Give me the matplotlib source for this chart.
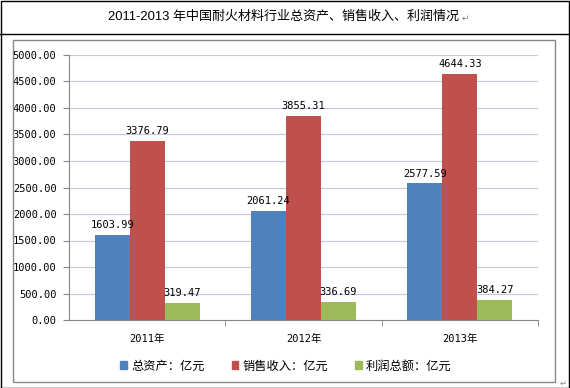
import numpy as np
import matplotlib
matplotlib.use('Agg')
import matplotlib.pyplot as plt
from matplotlib.patches import Rectangle
from matplotlib.lines import Line2D

years = ['2011年', '2012年', '2013年']
assets = [1603.99, 2061.24, 2577.59]
sales = [3376.79, 3855.31, 4644.33]
profit = [319.47, 336.69, 384.27]
series_names = ['总资产：亿元', '销售收入：亿元', '利润总额：亿元']
colors = ['#4F81BD', '#C0504D', '#9BBB59']
yticks = np.arange(0, 5001, 500)

W, H = 570, 388
mono = ['DejaVu Sans Mono', 'Noto Sans CJK SC']
cjk = ['Noto Sans CJK SC', 'DejaVu Sans']

fig = plt.figure(figsize=(W / 100, H / 100), dpi=100)
fig.patch.set_facecolor('white')

# outer frame, title box, inner chart frame
fig.patches.append(Rectangle((0.5 / W, 0.5 / H), (W - 1.5) / W, (H - 1.5) / H,
                             transform=fig.transFigure, fill=False, ec='black', lw=1))
fig.add_artist(Line2D([0, 1], [1 - 34 / H] * 2, color='black', lw=1))
fig.patches.append(Rectangle((13 / W, 1 - 382 / H), (555 - 13) / W, (382 - 40) / H,
                             transform=fig.transFigure, fill=False, ec='#888888', lw=1))
fig.text(284 / W, 1 - 17 / H, '2011-2013 年中国耐火材料行业总资产、销售收入、利润情况',
         ha='center', va='center', fontsize=9.4,
         family=['Liberation Sans', 'Noto Sans CJK SC'])
fig.text(462 / W, 1 - 18 / H, '↵', ha='left', va='center', fontsize=6.5, color='#888888')
fig.text(563 / W, 1 - 383 / H, '↵', ha='center', va='center', fontsize=6, color='#888888')

ax = fig.add_axes([69 / W, 1 - 320 / H, 469 / W, (320 - 55) / H])
x = np.arange(len(years))
bw = 0.224
for i, (vals, c) in enumerate(zip([assets, sales, profit], colors)):
    bars = ax.bar(x + (i - 1) * bw, vals, bw, color=c, label=series_names[i], zorder=3)
    for b, v in zip(bars, vals):
        ax.text(b.get_x() + b.get_width() / 2, v + 90, f'{v:.2f}',
                ha='center', va='bottom', fontsize=7.5, family=mono, zorder=5)

ax.set_xlim(-0.5, 2.5)
ax.set_ylim(0, 5000)
ax.set_yticks(yticks)
ax.set_yticklabels([f'{v:.2f}' for v in yticks], family=mono, fontsize=7.5)
ax.yaxis.grid(True, color='#C6C6DE', lw=0.8, zorder=0)
ax.set_xticks(x)
ax.set_xticklabels(years, family=mono, fontsize=7.5)
ax.set_xticks([0.5, 1.5, 2.5], minor=True)
ax.tick_params(axis='x', which='major', length=0, pad=10)
ax.tick_params(axis='x', which='minor', length=4, color='#868686', direction='out')
ax.tick_params(axis='y', length=4, color='#868686', direction='out', pad=5)
for s in ['top', 'right']:
    ax.spines[s].set_visible(False)
for s in ['left', 'bottom']:
    ax.spines[s].set_color('#868686')

handles = [Rectangle((0, 0), 1, 1, color=c) for c in colors]
fig.legend(handles, series_names, loc='center', bbox_to_anchor=(286 / W, 1 - 366 / H),
           ncol=3, frameon=False, prop={'family': cjk, 'size': 8.8},
           handlelength=0.55, handleheight=0.55, handletextpad=0.35, columnspacing=2.2)

fig.savefig('out.png', dpi=100)
